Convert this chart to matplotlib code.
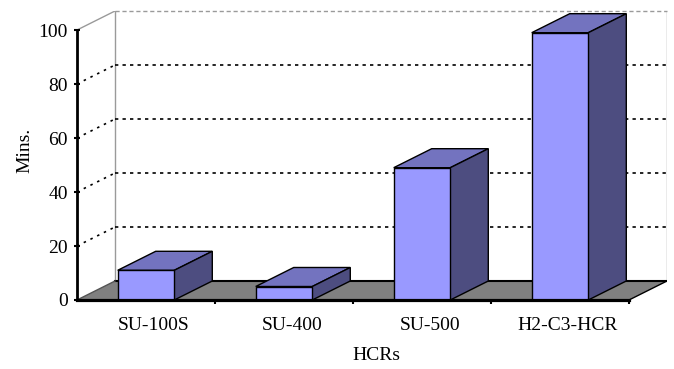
import matplotlib
matplotlib.use("Agg")
import matplotlib.pyplot as plt
import matplotlib.transforms as mtransforms
from matplotlib.patches import Polygon

# Data
categories = ["SU-100S", "SU-400", "SU-500", "H2-C3-HCR"]
minutes = [11, 5, 49, 99]
y_ticks = [0, 20, 40, 60, 80, 100]

# Colours
FRONT = "#9999FF"
TOP = "#7373BF"
SIDE = "#4D4D80"
FLOOR = "#808080"
WALL_EDGE = "#9A9A9A"

plt.rcParams["font.family"] = ["Liberation Serif", "DejaVu Serif"]
plt.rcParams["font.size"] = 14

W, H = 674, 369
fig = plt.figure(figsize=(W / 100, H / 100), dpi=100)

# depth offset of the pseudo-3D box (in data units)
DX = 0.2754
DY = 7.04
BAR_W = 0.41
YMAX = 100

ax = fig.add_axes([77 / W, 1 - 300 / H, (667 - 77) / W, (300 - 11) / H])
ax.set_xlim(-0.5, len(categories) - 0.5 + DX)
ax.set_ylim(0, YMAX + DY)
ax.patch.set_visible(False)

x0, x1 = -0.5, len(categories) - 0.5

# back wall edges
ax.plot([x0 + DX, x0 + DX], [DY, YMAX + DY], color=WALL_EDGE, lw=1, zorder=1)
ax.plot([x1 + DX, x1 + DX], [DY, YMAX + DY], color=WALL_EDGE, lw=1, zorder=1)
ax.plot([x0 + DX, x1 + DX], [YMAX + DY, YMAX + DY], color=WALL_EDGE, lw=1,
        ls=(0, (3, 2)), zorder=1, clip_on=False)
ax.plot([x0, x0 + DX], [YMAX, YMAX + DY], color=WALL_EDGE, lw=1, zorder=1)

# gridlines on back wall and side wall
for v in y_ticks[1:-1]:
    ax.plot([x0 + DX, x1 + DX], [v + DY, v + DY], color="black", lw=1.2,
            ls=(0, (2, 2.5)), zorder=1)
    ax.plot([x0, x0 + DX], [v, v + DY], color="black", lw=1.2,
            ls=(0, (1.5, 3)), zorder=1)

# floor
floor = Polygon([(x0, 0), (x1, 0), (x1 + DX, DY), (x0 + DX, DY)],
                closed=True, facecolor=FLOOR, edgecolor="none", zorder=2,
                clip_on=False)
ax.add_patch(floor)
ax.plot([x0 + DX, x1 + DX], [DY, DY], color="black", lw=1.5, zorder=2)
ax.plot([x1, x1 + DX], [0, DY], color="black", lw=1.0, zorder=2)
ax.plot([x0, x0 + DX], [0, DY], color="#555555", lw=1.0, zorder=2)

# bars: front faces
xs = list(range(len(categories)))
ax.bar(xs, minutes, width=BAR_W, color=FRONT, edgecolor="black",
       linewidth=1.0, zorder=4)

# bars: top and side faces
for x, v in zip(xs, minutes):
    l, r = x - BAR_W / 2, x + BAR_W / 2
    top = Polygon([(l, v), (r, v), (r + DX, v + DY), (l + DX, v + DY)],
                  closed=True, facecolor=TOP, edgecolor="black", lw=1.0,
                  zorder=3)
    side = Polygon([(r, 0), (r + DX, DY), (r + DX, v + DY), (r, v)],
                   closed=True, facecolor=SIDE, edgecolor="black", lw=1.0,
                   zorder=3)
    ax.add_patch(top)
    ax.add_patch(side)

# axes
for s in ["top", "right"]:
    ax.spines[s].set_visible(False)
ax.spines["left"].set_bounds(0, YMAX)
ax.spines["left"].set_linewidth(2)
ax.spines["left"].set_zorder(5)
ax.spines["bottom"].set_bounds(x0, x1)
ax.spines["bottom"].set_linewidth(2.3)
ax.spines["bottom"].set_zorder(5)

ax.set_yticks(y_ticks)
ax.tick_params(axis="y", direction="inout", length=5, width=1.5, pad=4)

ax.set_xticks(xs)
ax.set_xticklabels(categories)
ax.set_xticks([i + 0.5 for i in xs], minor=True)
ax.tick_params(axis="x", which="major", length=0, pad=12)
ax.tick_params(axis="x", which="minor", direction="inout", length=6, width=1.5)

# category labels sit slightly right of the bar centres
shift = mtransforms.ScaledTranslation(8 / 100, 0, fig.dpi_scale_trans)
for lab in ax.get_xticklabels():
    lab.set_transform(lab.get_transform() + shift)

fig.text(25 / W, 1 - 150 / H, "Mins.", rotation=90, ha="center", va="center")
fig.text(376 / W, 1 - 355 / H, "HCRs", ha="center", va="center")

fig.savefig("out.png", dpi=100)
